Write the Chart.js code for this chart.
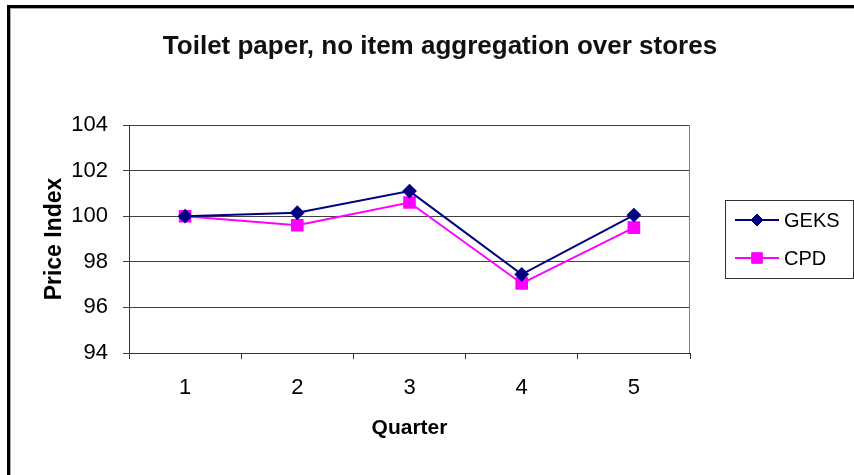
<!DOCTYPE html>
<html><head><meta charset="utf-8">
<script src="https://cdn.jsdelivr.net/npm/chart.js@4/dist/chart.umd.min.js"></script>
<style>
html,body{margin:0;padding:0;background:#fff;width:854px;height:475px;overflow:hidden}
#frame{position:absolute;left:7px;top:5px;width:900px;height:500px;border-left:3px solid #000;border-top:3px solid #000}
#frame2{position:absolute;left:10px;top:8px;width:900px;height:500px;border-left:1px solid #aaa;border-top:1px solid #aaa}
#wrap{position:absolute;left:0;top:0;width:854px;height:475px}
</style></head><body>
<div id="frame"></div><div id="frame2"></div>
<div id="wrap"><canvas id="c" width="854" height="475"></canvas></div>
<script>
// ---- data ----
const quarters = ['1', '2', '3', '4', '5'];
const geksValues = [100.0, 100.15, 101.1, 97.45, 100.05];
const cpdValues = [100.0, 99.6, 100.6, 97.05, 99.5];
const seriesNames = ['GEKS', 'CPD'];
const yMin = 94, yMax = 104, yStep = 2;
const chartTitle = 'Toilet paper, no item aggregation over stores';
const xTitle = 'Quarter';
const yTitle = 'Price Index';

const FONT = "'Liberation Sans', Arial, sans-serif";

const plotFrame = {
  id: 'plotFrame',
  beforeDatasetsDraw(chart) {
    const a = chart.chartArea, ctx = chart.ctx;
    ctx.save();
    ctx.strokeStyle = '#808080';
    ctx.lineWidth = 1;
    ctx.beginPath();
    ctx.moveTo(Math.round(a.right) - 0.5, a.top);
    ctx.lineTo(Math.round(a.right) - 0.5, a.bottom);
    ctx.stroke();
    ctx.restore();
  }
};

function drawMarker(ctx, style, r, x, y, color) {
  ctx.fillStyle = color; ctx.strokeStyle = color; ctx.lineWidth = 1;
  if (Chart.helpers && Chart.helpers.drawPoint) {
    Chart.helpers.drawPoint(ctx, {pointStyle: style, radius: r, rotation: 0, borderWidth: 1}, x, y);
    return;
  }
  ctx.beginPath();
  if (style === 'rectRot') {
    ctx.moveTo(x - r, y); ctx.lineTo(x, y - r); ctx.lineTo(x + r, y); ctx.lineTo(x, y + r);
  } else {
    const s = r * Math.SQRT1_2; ctx.rect(x - s, y - s, 2 * s, 2 * s);
  }
  ctx.closePath(); ctx.fill(); ctx.stroke();
}

const boxLegend = {
  id: 'boxLegend',
  afterDraw(chart) {
    const ctx = chart.ctx, a = chart.chartArea;
    const w = 128, h = 78;
    const x0 = Math.round(a.right + 35), y0 = Math.round((a.top + a.bottom) / 2 - h / 2);
    ctx.save();
    ctx.strokeStyle = '#333';
    ctx.lineWidth = 1;
    ctx.strokeRect(x0 + 0.5, y0 + 0.5, w, h);
    chart.data.datasets.forEach((ds, i) => {
      const yy = y0 + 20 + i * 38;
      ctx.strokeStyle = ds.borderColor;
      ctx.lineWidth = 2;
      ctx.beginPath();
      ctx.moveTo(x0 + 10, yy); ctx.lineTo(x0 + 54, yy);
      ctx.stroke();
      drawMarker(ctx, ds.pointStyle, ds.pointRadius, x0 + 32, yy, ds.pointBackgroundColor);
      ctx.fillStyle = '#000';
      ctx.font = '20px ' + FONT;
      ctx.textAlign = 'left';
      ctx.textBaseline = 'middle';
      ctx.fillText(ds.label, x0 + 59, yy + 1);
    });
    ctx.restore();
  }
};

new Chart(document.getElementById('c'), {
  type: 'line',
  data: {
    labels: quarters,
    datasets: [
      {
        label: seriesNames[0], data: geksValues,
        borderColor: '#000080', backgroundColor: '#000080',
        pointBackgroundColor: '#000080', pointBorderColor: '#000080',
        pointStyle: 'rectRot', pointRadius: 6, borderWidth: 2, tension: 0, yAxisID: 'y'
      },
      {
        label: seriesNames[1], data: cpdValues,
        borderColor: '#FF00FF', backgroundColor: '#FF00FF',
        pointBackgroundColor: '#FF00FF', pointBorderColor: '#FF00FF',
        pointStyle: 'rect', pointRadius: 7.5, borderWidth: 2, tension: 0, yAxisID: 'y'
      }
    ]
  },
  options: {
    responsive: false,
    animation: false,
    devicePixelRatio: 1,
    layout: { padding: { left: 26, right: 0, top: 0, bottom: 0 } },
    plugins: {
      legend: { display: false },
      tooltip: { enabled: false },
      title: {
        display: true, text: chartTitle, color: '#111',
        font: { family: FONT, size: 26, weight: 'bold', lineHeight: 1.2 },
        padding: { top: 31, bottom: 62.8 }
      }
    },
    scales: {
      x: {
        type: 'category',
        offset: true,
        grid: { offset: true, drawOnChartArea: false, drawTicks: true, tickLength: 6, color: '#333', lineWidth: 1 },
        border: { display: true, color: '#333', width: 1 },
        ticks: { color: '#000', font: { family: FONT, size: 22 }, padding: 16, maxRotation: 0 },
        title: { display: true, text: xTitle, color: '#000',
          font: { family: FONT, size: 21, weight: 'bold', lineHeight: 1.2 },
          padding: { top: 0, bottom: 34 } },
        afterFit(s) { s.height = 122; }
      },
      y: {
        position: 'left',
        min: yMin, max: yMax,
        grid: { color: '#404040', lineWidth: 1, drawTicks: true, tickLength: 6 },
        border: { display: true, color: '#333', width: 1 },
        ticks: { stepSize: yStep, color: '#000', font: { family: FONT, size: 22 }, padding: 15 },
        title: { display: true, text: yTitle, color: '#000',
          font: { family: FONT, size: 23, weight: 'bold', lineHeight: 1.2 },
          padding: { top: 15, bottom: 0 } },
        afterFit(s) { s.width = 103; }
      },
      yRight: {
        type: 'linear', position: 'right', display: true,
        grid: { display: false, drawTicks: false }, border: { display: false },
        ticks: { display: false },
        afterFit(s) { s.width = 164; }
      }
    }
  },
  plugins: [plotFrame, boxLegend]
});
</script>
</body></html>
